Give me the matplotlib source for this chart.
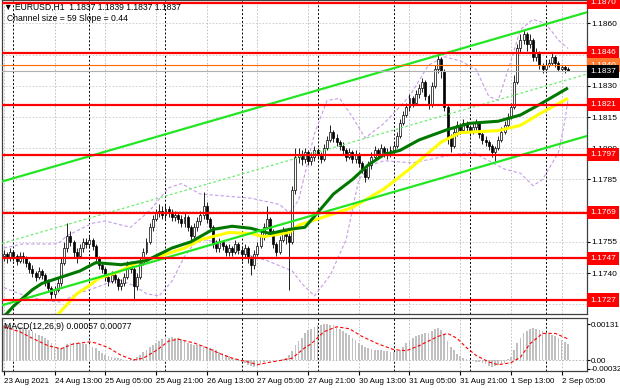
import numpy as np
import matplotlib
matplotlib.use("Agg")
import matplotlib.pyplot as plt
from matplotlib.transforms import blended_transform_factory

plt.rcParams['font.family'] = ['Liberation Sans', 'DejaVu Sans']

# prices are stored as pips above BASE (1.1700)
BASE, PIP = 1.17, 0.0001

# hourly candles, 23 Aug 21:00 .. 2 Sep 07:00
first_open = 48
closes = [49,47,50,48,46,48,47,45, 42,40,38,41,39,36, 33,30,32,35, 45,52,58,55,50,
          48,52,55,54,56,53, 47,44,42, 38,36,39,37,34,35,38, 44,42,34,38,
          45,50,55,62,66,69, 70,68,71,69,67,68, 66,64,67,62,58,62, 65,68,72,66,62,
          54,52,55,53,50, 52,50,54,51,49,52,47, 44,49,53, 58,62,66,60, 54,50,56,60,
          58,55, 80,96, 97,95,98,94,96,99,97,95, 100,104,108,105, 103,101,99,96,98,95,
          97,93,90,86, 92,96,99,97,100,98, 97,99,101,106,112, 116,120,124,122,126,
          129,132,125,121, 130,138,143,137, 120,105,101, 108,111,109,112,110,108,
          110,112,107,104,103, 101,98,100,104,108, 111,115,120,132, 148,152,155,150,152,
          144,146,140,138, 140,141,144,141, 138,139,138,137]
highs = [51,50,52,51,49,50,50,48, 46,44,41,43,42,40, 37,34,34,38, 47,55,64,60,56,
         52,54,57,57,58,57, 54,48,45, 43,40,41,40,38,37,40, 46,46,43,40,
         47,52,57,64,68,71, 73,72,73,72,71,70, 69,68,69,68,63,64, 67,70,79,74,67,
         63,56,57,56,54, 54,53,56,55,53,54,53, 48,51,55, 60,64,72,67, 61,55,58,62,
         61,60, 82,100, 100,99,100,99,98,101,100,98, 102,106,111,109, 107,104,103,100,100,99,
         99,98,94,91, 94,98,101,100,102,101, 100,101,103,108,114, 118,122,126,125,128,
         131,134,133,126, 132,140,146,144, 138,121,107, 110,113,112,114,113,111,
         112,114,113,108,106, 104,102,101,106,110, 113,117,122,135, 150,155,157,156,155,
         153,148,147,141, 142,143,146,145, 142,140,140,139]
lows = [46,45,46,46,44,45,45,43, 40,38,36,37,37,34, 31,27,28,31, 34,44,50,53,47,
        45,47,50,52,52,51, 45,42,40, 36,34,35,35,32,32,34, 37,40,27,32,
        37,44,49,54,60,65, 67,66,66,67,65,65, 64,62,62,60,56,57, 60,63,66,64,60,
        52,50,50,51,48, 48,48,49,49,46,47,45, 39,42,48, 52,56,61,58, 52,48,49,55,
        54,32, 54,78, 93,92,93,92,92,94,95,93, 94,99,103,103, 101,99,97,94,95,93,
        93,91,88,84, 85,90,95,95,96,96, 95,96,98,100,105, 111,115,118,120,121,
        124,127,123,119, 120,129,136,134, 118,102,98, 100,106,107,108,108,106,
        107,109,105,102,101, 99,96,94,99,103, 107,110,114,119, 131,146,150,147,148,
        142,142,138,136, 137,139,140,139, 137,137,136,137]

# moving averages (read at sparse bars)
green_bars = [0,3,9,12,20,24,29,37,45,49,53,59,66,72,78,84,90,95,99,104,110,115,120,125,131,140,147,156,163,169,178]
green_vals = [19,24,32,35,39,41,45,44,46,49,52,55,61,62.5,61.5,59,61,62,69,78,85,92,97,99,104,109,112,113,116,121,129]
yellow_bars = [17,23,27,30,36,42,50,57,62,71,78,82,90,93,99,110,120,128,138,144,150,156,163,169,178]
yellow_vals = [20,30,34,37.5,40.5,45,48.5,52,56,59.5,59,57.5,59.5,63,66,71.5,80.5,90,103,107.5,108,108.5,111,116.5,124]

# bollinger envelope
bb_up_bars = [0,6,17,20,28,32,40,46,52,56,62,78,87,90,93,98,102,106,110,114,120,128,134,139,144,149,153,156,160,163,167,171,175,178]
bb_up_vals = [52,54,54,58,64,65,62,70,81,83,78,76,73,69,75,107,123,124,115,105,112,125,140,144,142,138,125,123,142,157,162,160,152,148]
bb_lo_bars = [0,5,12,18,23,29,36,41,45,49,53,57,60,63,67,74,83,91,94,98,103,108,112,116,120,129,142,148,153,158,163,167,170,175,177,178]
bb_lo_vals = [33,30,27,26,30,33,37,34,30,29,36,48,54,56,55,50,46,41,35,29,39,56,85,92,94,93,97,98,94,90,88,82,85,98,113,123]

# regression channel (endpoints)
chan_bars = [-0.6, 184]
chan_upper = [84, 165.4]
chan_lower = [24.5, 105.9]

levels_red = [1.1870, 1.1846, 1.1821, 1.1797, 1.1769, 1.1747, 1.1727]
level_orange = 1.1840
last_price = 1.1837
price_ticks = [1.1725, 1.1740, 1.1755, 1.1770, 1.1785, 1.1800, 1.1815, 1.1830, 1.1845, 1.1860]

# MACD histogram / signal, in 1e-5
macd_hist = [128,130,129,126,124,121, 118,114,110,104, 98,92,86,80,74, 62,50,44,41,48,
             58,62,63,62,61, 60,59,55,48,42, 34,26,19,15,11, 8,6,3,1,0, 2,5,12,20,28,
             36,46,56,62,70, 75,79,82,84,82, 80,76,70,63,58, 56,54,52,50,47, 45,40,35,30,25,
             20,14,9,4,-2, -7,-12,-18,-22,-24, -20,-14,-8,-3,0, 0,-1,0,2,8, 20,34,55,70,82,
             98,108,114,120,126, 128,130,131,129,126, 120,114,106,98,90, 82,72,62,54,48,
             44,41,38,36,35, 34,33,31,29,32, 38,48,62,72,80, 86,90,94,97,100,
             106,112,116,110,96, 70,48,35,22,14, 8,3,0,-4,-6, -9,-12,-16,-20,-24,
             -22,-19,-16,-10,2, 12,35,62,80,97, 106,112,115,112,108, 104,100,95,92,86,
             80,72,64,57]
sig_bars = [0,5,9,14,18,22,27,29,33,37,41,44,48,52,55,60,64,68,72,77,80,83,88,91,95,97,101,105,109,113,
            118,123,127,131,137,140,143,146,149,153,156,160,163,166,170,174,178]
sig_vals = [121,103,79,52,41,59,66,62,45,17,0,7,34,69,76,62,45,24,7,-7,-17,-10,0,7,45,59,103,121,114,86,
            59,38,34,52,86,97,79,45,17,-7,-17,-10,10,59,97,97,77]

label_bars = [0,16,32,48,64,80,96,112,128,144,160,176]
labels = ["23 Aug 2021","24 Aug 13:00","25 Aug 05:00","25 Aug 21:00","26 Aug 13:00","27 Aug 05:00",
          "27 Aug 21:00","30 Aug 13:00","31 Aug 05:00","31 Aug 21:00","1 Sep 13:00","2 Sep 05:00"]
day_bars = [3,27,51,75,99,123,147,171]


def P(v):
    return BASE + np.asarray(v, dtype=float) * PIP


fig = plt.figure(figsize=(6.2, 3.88), dpi=100)
ax = fig.add_axes([0.0032, 0.1907, 0.9435, 0.8093])
mx = fig.add_axes([0.0032, 0.0438, 0.9435, 0.1366], sharex=ax)

x = np.arange(len(closes))
c = P(closes); h = P(highs); l = P(lows)
o = np.concatenate([[P(first_open)], c[:-1]])
bull = c >= o

for a in (ax, mx):
    for b in label_bars:
        a.axvline(b, color='#b8b8b8', lw=0.6, ls=(0, (2, 2)), zorder=0)
    for b in day_bars:
        a.axvline(b, color='black', lw=0.7, ls=(0, (2, 2)), zorder=1)
for t in price_ticks:
    ax.axhline(t, color='#c8c8c8', lw=0.6, ls=(0, (2, 2)), zorder=0)

# bollinger
ax.plot(bb_up_bars, P(bb_up_vals), color='#c89be8', lw=0.8, ls=(0, (3, 2)), zorder=2)
ax.plot(bb_lo_bars, P(bb_lo_vals), color='#c89be8', lw=0.8, ls=(0, (3, 2)), zorder=2)

# candles
ax.vlines(x, l, h, color='black', lw=0.6, zorder=3)
body_lo = np.minimum(o, c)
body_h = np.maximum(np.abs(c - o), 0.3 * PIP)
ax.bar(x, body_h, bottom=body_lo, width=0.62, color=np.where(bull, 'white', 'black'),
       edgecolor='black', linewidth=0.5, zorder=4)

# moving averages
ax.plot(yellow_bars, P(yellow_vals), color='#ffff00', lw=2.2, zorder=5, solid_capstyle='butt')
ax.plot(green_bars, P(green_vals), color='#007800', lw=2.2, zorder=5, solid_capstyle='butt')

# channel
ax.plot(chan_bars, P(chan_upper), color='#22e622', lw=1.6, zorder=6)
ax.plot(chan_bars, P(chan_lower), color='#22e622', lw=1.6, zorder=6)
ax.plot(chan_bars, (P(chan_upper) + P(chan_lower)) / 2, color='#66ee66', lw=0.9,
        ls=(0, (2, 2)), zorder=6)

# levels
for lv in levels_red:
    ax.axhline(lv, color='#ff0000', lw=1.6, zorder=7)
ax.axhline(level_orange, color='#ff6a00', lw=0.8, zorder=7)
ax.axhline(last_price, color='#b0b0b0', lw=0.8, zorder=7)

ax.set_xlim(-0.6, 184)
ax.set_ylim(1.17203, 1.18713)
ax.yaxis.tick_right()
ax.set_yticks(price_ticks)
ax.set_yticklabels([f"{t:.4f}" for t in price_ticks])
ax.tick_params(axis='y', labelsize=6, length=2, pad=1.5, colors='black')
ax.tick_params(axis='x', bottom=False, labelbottom=False)

tr = blended_transform_factory(ax.transAxes, ax.transData)
box = dict(boxstyle='square,pad=0.38', ec='none')
for lv in levels_red:
    ax.text(1.006, lv, f"{lv:.4f}", transform=tr, ha='left', va='center', fontsize=6,
            color='white', clip_on=False, zorder=20, bbox=dict(box, fc='#ff0000'))
ax.text(1.006, level_orange, f"{level_orange:.4f}", transform=tr, ha='left', va='center',
        fontsize=6, color='white', clip_on=False, zorder=20, bbox=dict(box, fc='#ff7a30'))
ax.text(1.006, last_price, f"{last_price:.4f}", transform=tr, ha='left', va='center',
        fontsize=6, color='white', clip_on=False, zorder=21, bbox=dict(box, fc='black'))

ax.text(0.004, 0.992, "\u25bc EURUSD,H1  1.1837 1.1839 1.1837 1.1837", transform=ax.transAxes,
        ha='left', va='top', fontsize=6.2, zorder=30)
ax.text(0.009, 0.957, "Channel size = 59 Slope = 0.44", transform=ax.transAxes,
        ha='left', va='top', fontsize=6.2, zorder=30)

# MACD
mx.bar(np.arange(len(macd_hist)), np.asarray(macd_hist) * 1e-5, width=0.55, color='#c0c0c0', zorder=2)
mx.plot(sig_bars, np.asarray(sig_vals) * 1e-5, color='#ff0000', lw=0.8, ls=(0, (3, 2)), zorder=3)
mx.axhline(0, color='#b0b0b0', lw=0.6, ls=(0, (2, 2)), zorder=1)
mx.set_ylim(-0.0004, 0.00153)
mx.yaxis.tick_right()
mx.set_yticks([0.00131, 0.0, -0.00032])
mx.set_yticklabels(["0.00131", "0.00", "-0.00032"])
mx.tick_params(axis='y', labelsize=5.8, length=2, pad=1)
mx.set_xticks(label_bars)
mx.set_xticklabels(labels, ha='left')
mx.tick_params(axis='x', labelsize=5.8, length=3, pad=2)
mx.text(0.004, 0.93, "MACD(12,26,9) 0.00057 0.00077", transform=mx.transAxes,
        ha='left', va='top', fontsize=6.2)

for a in (ax, mx):
    for s in a.spines.values():
        s.set_color('#404040')
        s.set_linewidth(0.9)

fig.savefig("out.png", dpi=100, facecolor='white')
